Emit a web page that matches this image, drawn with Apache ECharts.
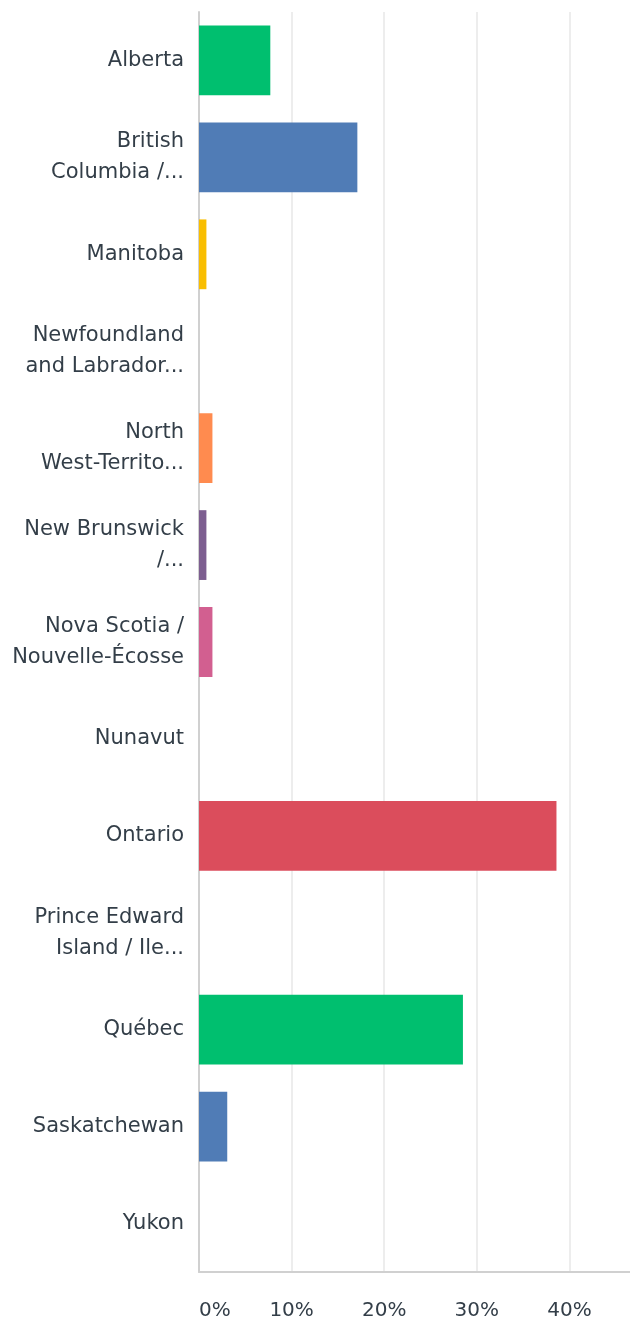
<!DOCTYPE html>
<html>
<head>
<meta charset="utf-8">
<script src="https://cdn.jsdelivr.net/npm/echarts@6/dist/echarts.min.js"></script>
<style>html,body{margin:0;padding:0;background:#fff;overflow:hidden}#c{width:640px;height:1321px}</style>
</head>
<body>
<div id="c"></div>
<script>
const categories = [
  "Alberta",
  "British\nColumbia /...",
  "Manitoba",
  "Newfoundland\nand Labrador...",
  "North\nWest-Territo...",
  "New Brunswick\n/...",
  "Nova Scotia /\nNouvelle-Écosse",
  "Nunavut",
  "Ontario",
  "Prince Edward\nIsland / Ile...",
  "Québec",
  "Saskatchewan",
  "Yukon"
];
const values = [7.7, 17.1, 0.8, 0, 1.45, 0.8, 1.45, 0, 38.6, 0, 28.5, 3.05, 0];
const barColors = ["#00bf6f","#507cb6","#f9be00","#6bc8cd","#ff8b4f","#7d5e90","#d25f90","#a8b0b5","#db4d5c","#768086","#00bf6f","#507cb6","#f9be00"];
const xTicks = [0, 10, 20, 30, 40];

const chart = echarts.init(document.getElementById('c'), null, {renderer: 'canvas'});
chart.setOption({
  animation: false,
  grid: {left: 199, top: 12, right: 0, bottom: 46, containLabel: false},
  xAxis: {
    type: 'value', min: 0, max: 47.62, interval: 10,
    axisLine: {show: true, lineStyle: {color: '#d0d0d0', width: 2}},
    axisTick: {show: false},
    splitLine: {show: true, lineStyle: {color: '#ededed', width: 2}},
    axisLabel: {
      color: '#333e48', fontSize: 20, fontFamily: 'DejaVu Sans', margin: 29,
      showMaxLabel: false, alignMinLabel: 'left',
      formatter: v => xTicks.indexOf(v) >= 0 ? v + '%' : ''
    }
  },
  yAxis: {
    type: 'category', inverse: true, data: categories,
    axisLine: {show: true, lineStyle: {color: '#d0d0d0', width: 2}},
    axisTick: {show: false},
    axisLabel: {
      color: '#333e48', fontSize: 21, fontFamily: 'DejaVu Sans',
      lineHeight: 31, margin: 15, align: 'right', interval: 0
    }
  },
  series: [{
    type: 'bar',
    data: values.map((v, i) => ({value: v, itemStyle: {color: barColors[i]}})),
    barCategoryGap: '28%'
  }]
});
</script>
</body>
</html>
